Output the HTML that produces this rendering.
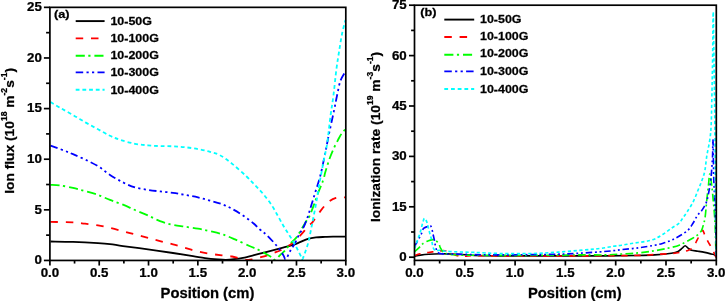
<!DOCTYPE html>
<html><head><meta charset="utf-8"><title>Ion flux and ionization rate</title>
<style>
html,body{margin:0;padding:0;background:#fff;}
body{width:725px;height:301px;overflow:hidden;font-family:"Liberation Sans",sans-serif;}
svg{display:block;will-change:transform;}
</style></head><body>
<svg width="725" height="301" viewBox="0 0 725 301">
<rect x="0" y="0" width="725" height="301" fill="#fff"/>
<g font-family="'Liberation Sans', sans-serif" font-weight="bold" fill="#000">
<clipPath id="cl"><rect x="48.90" y="7.35" width="298.10" height="254.10"/></clipPath>
<g clip-path="url(#cl)" fill="none" stroke-width="1.80" stroke-linejoin="round">
<path d="M50.50 241.50 C54.25 241.57 65.08 241.63 73.00 241.90 C80.92 242.17 91.83 242.73 98.00 243.10 C104.17 243.47 105.83 243.60 110.00 244.10 C114.17 244.60 116.67 245.22 123.00 246.10 C129.33 246.98 139.67 248.25 148.00 249.40 C156.33 250.55 165.50 251.88 173.00 253.00 C180.50 254.12 187.67 255.25 193.00 256.10 C198.33 256.95 200.83 257.55 205.00 258.10 C209.17 258.65 214.50 259.12 218.00 259.40 C221.50 259.68 223.33 259.83 226.00 259.80 C228.67 259.77 231.17 259.53 234.00 259.20 C236.83 258.87 239.50 258.52 243.00 257.80 C246.50 257.08 251.00 255.90 255.00 254.90 C259.00 253.90 262.33 253.02 267.00 251.80 C271.67 250.58 278.67 248.75 283.00 247.60 C287.33 246.45 290.17 245.80 293.00 244.90 C295.83 244.00 297.50 243.22 300.00 242.20 C302.50 241.18 305.33 239.60 308.00 238.80 C310.67 238.00 313.17 237.72 316.00 237.40 C318.83 237.08 322.17 237.03 325.00 236.90 C327.83 236.77 329.50 236.65 333.00 236.60 C336.50 236.55 343.83 236.60 346.00 236.60" stroke="#000"/>
<path d="M50.50 221.90 C54.25 221.98 67.25 222.10 73.00 222.40 C78.75 222.70 80.83 223.20 85.00 223.70 C89.17 224.20 93.83 224.70 98.00 225.40 C102.17 226.10 105.83 226.93 110.00 227.90 C114.17 228.87 118.83 230.12 123.00 231.20 C127.17 232.28 130.83 233.28 135.00 234.40 C139.17 235.52 143.83 236.78 148.00 237.90 C152.17 239.02 155.83 240.02 160.00 241.10 C164.17 242.18 168.83 243.27 173.00 244.40 C177.17 245.53 180.83 246.72 185.00 247.90 C189.17 249.08 193.83 250.52 198.00 251.50 C202.17 252.48 206.00 253.17 210.00 253.80 C214.00 254.43 218.33 254.85 222.00 255.30 C225.67 255.75 229.00 255.97 232.00 256.50 C235.00 257.03 237.50 257.95 240.00 258.50 C242.50 259.05 245.00 259.63 247.00 259.80 C249.00 259.97 249.88 259.88 252.00 259.50 C254.12 259.12 257.38 258.10 259.70 257.50 C262.02 256.90 263.62 256.65 265.90 255.90 C268.18 255.15 271.03 253.90 273.40 253.00 C275.77 252.10 277.75 251.62 280.10 250.50 C282.45 249.38 285.70 247.35 287.50 246.30 C289.30 245.25 289.40 245.40 290.90 244.20 C292.40 243.00 294.73 240.78 296.50 239.10 C298.27 237.42 299.58 236.18 301.50 234.10 C303.42 232.02 306.08 228.68 308.00 226.60 C309.92 224.52 311.00 224.10 313.00 221.60 C315.00 219.10 317.50 214.80 320.00 211.60 C322.50 208.40 325.33 204.68 328.00 202.40 C330.67 200.12 333.00 198.75 336.00 197.90 C339.00 197.05 344.33 197.40 346.00 197.30" stroke="#ff0000" stroke-dasharray="7.50 7.80"/>
<path d="M50.50 184.90 C52.08 184.98 56.25 184.90 60.00 185.40 C63.75 185.90 68.83 186.95 73.00 187.90 C77.17 188.85 80.83 189.93 85.00 191.10 C89.17 192.27 93.83 193.43 98.00 194.90 C102.17 196.37 105.83 198.27 110.00 199.90 C114.17 201.53 118.83 203.02 123.00 204.70 C127.17 206.38 130.83 208.20 135.00 210.00 C139.17 211.80 143.83 213.65 148.00 215.50 C152.17 217.35 155.83 219.53 160.00 221.10 C164.17 222.67 168.83 223.97 173.00 224.90 C177.17 225.83 180.83 226.07 185.00 226.70 C189.17 227.33 193.83 227.95 198.00 228.70 C202.17 229.45 205.90 230.25 210.00 231.20 C214.10 232.15 218.43 233.03 222.60 234.40 C226.77 235.77 230.43 237.43 235.00 239.40 C239.57 241.37 246.17 244.50 250.00 246.20 C253.83 247.90 255.23 248.25 258.00 249.60 C260.77 250.95 264.22 252.97 266.60 254.30 C268.98 255.63 270.82 256.68 272.30 257.60 C273.78 258.52 274.17 260.25 275.50 259.80 C276.83 259.35 278.73 256.42 280.30 254.90 C281.87 253.38 283.03 252.78 284.90 250.70 C286.77 248.62 289.57 244.62 291.50 242.40 C293.43 240.18 294.83 239.62 296.50 237.40 C298.17 235.18 299.83 231.87 301.50 229.10 C303.17 226.33 305.13 223.03 306.50 220.80 C307.87 218.57 308.47 218.35 309.70 215.70 C310.93 213.05 312.52 208.63 313.90 204.90 C315.28 201.17 316.48 197.32 318.00 193.30 C319.52 189.28 321.75 184.42 323.00 180.80 C324.25 177.18 324.38 175.35 325.50 171.60 C326.62 167.85 328.32 162.18 329.70 158.30 C331.08 154.42 332.42 151.35 333.80 148.30 C335.18 145.25 336.63 142.55 338.00 140.00 C339.37 137.45 340.67 134.83 342.00 133.00 C343.33 131.17 345.33 129.67 346.00 129.00" stroke="#00ff00" stroke-dasharray="9.10 3.50 2.20 3.90"/>
<path d="M50.50 145.60 C52.75 146.42 60.25 149.07 64.00 150.50 C67.75 151.93 69.50 152.70 73.00 154.20 C76.50 155.70 80.83 157.50 85.00 159.50 C89.17 161.50 93.83 163.63 98.00 166.20 C102.17 168.77 105.83 172.20 110.00 174.90 C114.17 177.60 118.83 180.32 123.00 182.40 C127.17 184.48 130.83 186.15 135.00 187.40 C139.17 188.65 143.83 189.23 148.00 189.90 C152.17 190.57 155.83 190.90 160.00 191.40 C164.17 191.90 168.83 192.32 173.00 192.90 C177.17 193.48 180.83 194.15 185.00 194.90 C189.17 195.65 193.83 196.45 198.00 197.40 C202.17 198.35 205.90 199.43 210.00 200.60 C214.10 201.77 218.85 202.98 222.60 204.40 C226.35 205.82 229.05 207.22 232.50 209.10 C235.95 210.98 239.83 213.35 243.30 215.70 C246.77 218.05 250.53 220.90 253.30 223.20 C256.07 225.50 257.68 227.55 259.90 229.50 C262.12 231.45 263.82 232.20 266.60 234.90 C269.38 237.60 273.83 242.37 276.60 245.70 C279.37 249.03 281.68 252.63 283.20 254.90 C284.72 257.17 284.58 259.87 285.70 259.30 C286.82 258.73 288.37 254.18 289.90 251.50 C291.43 248.82 293.25 246.23 294.90 243.20 C296.55 240.17 298.30 236.08 299.80 233.30 C301.30 230.52 302.52 229.43 303.90 226.50 C305.28 223.57 306.85 219.30 308.10 215.70 C309.35 212.10 310.17 208.92 311.40 204.90 C312.63 200.88 313.98 196.58 315.50 191.60 C317.02 186.62 318.83 181.67 320.50 175.00 C322.17 168.33 324.12 158.28 325.50 151.60 C326.88 144.92 327.42 141.57 328.80 134.90 C330.18 128.23 332.42 118.22 333.80 111.60 C335.18 104.98 335.98 100.37 337.10 95.20 C338.22 90.03 339.05 84.63 340.50 80.60 C341.95 76.57 344.92 72.60 345.80 71.00" stroke="#0000ff" stroke-dasharray="7.50 3.30 2.20 3.30 2.20 3.30"/>
<path d="M50.50 102.00 C52.17 103.00 56.75 105.83 60.50 108.00 C64.25 110.17 68.85 112.60 73.00 115.00 C77.15 117.40 81.23 120.02 85.40 122.40 C89.57 124.78 93.90 127.07 98.00 129.30 C102.10 131.53 106.33 134.05 110.00 135.80 C113.67 137.55 115.83 138.47 120.00 139.80 C124.17 141.13 130.33 142.88 135.00 143.80 C139.67 144.72 143.83 144.92 148.00 145.30 C152.17 145.68 155.83 145.93 160.00 146.10 C164.17 146.27 168.83 146.12 173.00 146.30 C177.17 146.48 180.83 146.73 185.00 147.20 C189.17 147.67 193.83 148.33 198.00 149.10 C202.17 149.87 206.33 150.78 210.00 151.80 C213.67 152.82 216.25 153.15 220.00 155.20 C223.75 157.25 228.07 160.55 232.50 164.10 C236.93 167.65 242.80 172.93 246.60 176.50 C250.40 180.07 252.53 182.58 255.30 185.50 C258.07 188.42 260.50 190.77 263.20 194.00 C265.90 197.23 269.00 201.15 271.50 204.90 C274.00 208.65 276.20 212.98 278.20 216.50 C280.20 220.02 281.83 223.17 283.50 226.00 C285.17 228.83 286.58 230.92 288.20 233.50 C289.82 236.08 291.53 238.63 293.20 241.50 C294.87 244.37 296.82 248.05 298.20 250.70 C299.58 253.35 300.78 256.02 301.50 257.40 C302.22 258.78 301.95 259.70 302.50 259.00 C303.05 258.30 303.87 255.83 304.80 253.20 C305.73 250.57 307.13 246.80 308.10 243.20 C309.07 239.60 309.77 235.63 310.60 231.60 C311.43 227.57 312.13 224.00 313.10 219.00 C314.07 214.00 315.30 207.77 316.40 201.60 C317.50 195.43 318.45 188.95 319.70 182.00 C320.95 175.05 322.65 166.37 323.90 159.90 C325.15 153.43 326.10 150.52 327.20 143.20 C328.30 135.88 329.45 124.03 330.50 116.00 C331.55 107.97 332.53 102.67 333.50 95.00 C334.47 87.33 335.38 77.17 336.30 70.00 C337.22 62.83 338.05 58.00 339.00 52.00 C339.95 46.00 340.92 39.33 342.00 34.00 C343.08 28.67 344.92 22.33 345.50 20.00" stroke="#00ffff" stroke-dasharray="3.80 2.90"/>
</g>
<rect x="49.90" y="7.35" width="295.90" height="253.10" fill="none" stroke="#000" stroke-width="1.70"/>
<line x1="49.90" y1="260.45" x2="49.90" y2="265.55" stroke="#000" stroke-width="1.70"/>
<text transform="translate(49.90,277.40) scale(1.0650,1)" font-size="12.5" text-anchor="middle" stroke="#000" stroke-width="0.25">0.0</text>
<line x1="74.56" y1="260.45" x2="74.56" y2="263.55" stroke="#000" stroke-width="1.70"/>
<line x1="99.22" y1="260.45" x2="99.22" y2="265.55" stroke="#000" stroke-width="1.70"/>
<text transform="translate(99.22,277.40) scale(1.0650,1)" font-size="12.5" text-anchor="middle" stroke="#000" stroke-width="0.25">0.5</text>
<line x1="123.88" y1="260.45" x2="123.88" y2="263.55" stroke="#000" stroke-width="1.70"/>
<line x1="148.53" y1="260.45" x2="148.53" y2="265.55" stroke="#000" stroke-width="1.70"/>
<text transform="translate(148.53,277.40) scale(1.0650,1)" font-size="12.5" text-anchor="middle" stroke="#000" stroke-width="0.25">1.0</text>
<line x1="173.19" y1="260.45" x2="173.19" y2="263.55" stroke="#000" stroke-width="1.70"/>
<line x1="197.85" y1="260.45" x2="197.85" y2="265.55" stroke="#000" stroke-width="1.70"/>
<text transform="translate(197.85,277.40) scale(1.0650,1)" font-size="12.5" text-anchor="middle" stroke="#000" stroke-width="0.25">1.5</text>
<line x1="222.51" y1="260.45" x2="222.51" y2="263.55" stroke="#000" stroke-width="1.70"/>
<line x1="247.17" y1="260.45" x2="247.17" y2="265.55" stroke="#000" stroke-width="1.70"/>
<text transform="translate(247.17,277.40) scale(1.0650,1)" font-size="12.5" text-anchor="middle" stroke="#000" stroke-width="0.25">2.0</text>
<line x1="271.82" y1="260.45" x2="271.82" y2="263.55" stroke="#000" stroke-width="1.70"/>
<line x1="296.48" y1="260.45" x2="296.48" y2="265.55" stroke="#000" stroke-width="1.70"/>
<text transform="translate(296.48,277.40) scale(1.0650,1)" font-size="12.5" text-anchor="middle" stroke="#000" stroke-width="0.25">2.5</text>
<line x1="321.14" y1="260.45" x2="321.14" y2="263.55" stroke="#000" stroke-width="1.70"/>
<line x1="345.80" y1="260.45" x2="345.80" y2="265.55" stroke="#000" stroke-width="1.70"/>
<text transform="translate(345.80,277.40) scale(1.0650,1)" font-size="12.5" text-anchor="middle" stroke="#000" stroke-width="0.25">3.0</text>
<line x1="43.90" y1="260.45" x2="49.90" y2="260.45" stroke="#000" stroke-width="1.70"/>
<text transform="translate(41.80,264.15) scale(1.0650,1)" font-size="12.5" text-anchor="end" stroke="#000" stroke-width="0.25">0</text>
<line x1="46.10" y1="235.14" x2="49.90" y2="235.14" stroke="#000" stroke-width="1.70"/>
<line x1="43.90" y1="209.83" x2="49.90" y2="209.83" stroke="#000" stroke-width="1.70"/>
<text transform="translate(41.80,213.53) scale(1.0650,1)" font-size="12.5" text-anchor="end" stroke="#000" stroke-width="0.25">5</text>
<line x1="46.10" y1="184.52" x2="49.90" y2="184.52" stroke="#000" stroke-width="1.70"/>
<line x1="43.90" y1="159.21" x2="49.90" y2="159.21" stroke="#000" stroke-width="1.70"/>
<text transform="translate(41.80,162.91) scale(1.0650,1)" font-size="12.5" text-anchor="end" stroke="#000" stroke-width="0.25">10</text>
<line x1="46.10" y1="133.90" x2="49.90" y2="133.90" stroke="#000" stroke-width="1.70"/>
<line x1="43.90" y1="108.59" x2="49.90" y2="108.59" stroke="#000" stroke-width="1.70"/>
<text transform="translate(41.80,112.29) scale(1.0650,1)" font-size="12.5" text-anchor="end" stroke="#000" stroke-width="0.25">15</text>
<line x1="46.10" y1="83.28" x2="49.90" y2="83.28" stroke="#000" stroke-width="1.70"/>
<line x1="43.90" y1="57.97" x2="49.90" y2="57.97" stroke="#000" stroke-width="1.70"/>
<text transform="translate(41.80,61.67) scale(1.0650,1)" font-size="12.5" text-anchor="end" stroke="#000" stroke-width="0.25">20</text>
<line x1="46.10" y1="32.66" x2="49.90" y2="32.66" stroke="#000" stroke-width="1.70"/>
<line x1="43.90" y1="7.35" x2="49.90" y2="7.35" stroke="#000" stroke-width="1.70"/>
<text transform="translate(41.80,11.05) scale(1.0650,1)" font-size="12.5" text-anchor="end" stroke="#000" stroke-width="0.25">25</text>
<line x1="75.70" y1="21.10" x2="104.60" y2="21.10" stroke="#000" stroke-width="1.90"/>
<text transform="translate(110.40,24.70) scale(1.0580,1)" font-size="11.8" text-anchor="start" stroke="#000" stroke-width="0.25">10-50G</text>
<line x1="75.70" y1="38.40" x2="104.60" y2="38.40" stroke="#ff0000" stroke-width="1.90" stroke-dasharray="7.5 7.8"/>
<text transform="translate(110.40,41.60) scale(1.0580,1)" font-size="11.8" text-anchor="start" stroke="#000" stroke-width="0.25">10-100G</text>
<line x1="75.70" y1="55.80" x2="104.60" y2="55.80" stroke="#00ff00" stroke-width="1.90" stroke-dasharray="9.1 3.5 2.2 3.9"/>
<text transform="translate(110.40,58.75) scale(1.0580,1)" font-size="11.8" text-anchor="start" stroke="#000" stroke-width="0.25">10-200G</text>
<line x1="75.70" y1="72.40" x2="104.60" y2="72.40" stroke="#0000ff" stroke-width="1.90" stroke-dasharray="7.5 3.3 2.2 3.3 2.2 3.3"/>
<text transform="translate(110.40,76.20) scale(1.0580,1)" font-size="11.8" text-anchor="start" stroke="#000" stroke-width="0.25">10-300G</text>
<line x1="75.70" y1="89.80" x2="104.60" y2="89.80" stroke="#00ffff" stroke-width="1.90" stroke-dasharray="3.8 2.9"/>
<text transform="translate(110.40,93.60) scale(1.0580,1)" font-size="11.8" text-anchor="start" stroke="#000" stroke-width="0.25">10-400G</text>
<text transform="translate(54.00,18.00) scale(1.0800,1)" font-size="11.8" text-anchor="start" stroke="#000" stroke-width="0.25">(a)</text>
<text transform="translate(207.45,298.00) scale(1.0360,1)" font-size="14.3" text-anchor="middle" stroke="#000" stroke-width="0.25">Position (cm)</text>
<text transform="translate(13.70,193.80) rotate(-90) scale(1.0220,1)" font-size="13.5" stroke="#000" stroke-width="0.25">Ion flux (10<tspan font-size="8.4" dy="-6.6">18</tspan><tspan dy="6.6"> m</tspan><tspan font-size="8.4" dy="-6.6">-2</tspan><tspan dy="6.6">s</tspan><tspan font-size="8.4" dy="-6.6">-1</tspan><tspan dy="6.6">)</tspan></text>
<clipPath id="cr"><rect x="413.50" y="5.20" width="304.00" height="256.20"/></clipPath>
<g clip-path="url(#cr)" fill="none" stroke-width="1.65" stroke-linejoin="round">
<path d="M414.50 256.30 C415.50 256.10 418.12 255.45 420.50 255.10 C422.88 254.75 425.33 254.42 428.80 254.20 C432.27 253.98 437.83 253.83 441.30 253.80 C444.77 253.77 446.83 253.90 449.60 254.00 C452.37 254.10 454.85 254.27 457.90 254.40 C460.95 254.53 465.15 254.62 467.90 254.80 C470.65 254.98 469.05 255.33 474.40 255.50 C479.75 255.67 487.40 255.75 500.00 255.80 C512.60 255.85 532.50 255.80 550.00 255.80 C567.50 255.80 590.33 255.85 605.00 255.80 C619.67 255.75 629.70 255.65 638.00 255.50 C646.30 255.35 649.23 255.28 654.80 254.90 C660.37 254.52 667.52 253.77 671.40 253.20 C675.28 252.63 676.30 252.33 678.10 251.50 C679.90 250.67 681.03 249.17 682.20 248.20 C683.37 247.23 684.12 245.70 685.10 245.70 C686.08 245.70 687.05 247.45 688.10 248.20 C689.15 248.95 689.75 249.70 691.40 250.20 C693.05 250.70 695.78 250.83 698.00 251.20 C700.22 251.57 702.48 251.93 704.70 252.40 C706.92 252.87 709.65 253.58 711.30 254.00 C712.95 254.42 713.77 254.33 714.60 254.90 C715.43 255.47 716.02 256.98 716.30 257.40" stroke="#000"/>
<path d="M414.50 255.50 C415.43 255.22 417.78 254.30 420.10 253.80 C422.42 253.30 425.85 252.88 428.40 252.50 C430.95 252.12 432.98 251.80 435.40 251.50 C437.82 251.20 440.97 250.75 442.90 250.70 C444.83 250.65 445.88 250.95 447.00 251.20 C448.12 251.45 448.43 251.63 449.60 252.20 C450.77 252.77 452.48 253.97 454.00 254.60 C455.52 255.23 456.80 255.73 458.70 256.00 C460.60 256.27 462.85 256.27 465.40 256.20 C467.95 256.13 468.23 255.63 474.00 255.60 C479.77 255.57 487.33 255.93 500.00 256.00 C512.67 256.07 532.50 256.05 550.00 256.00 C567.50 255.95 590.33 255.80 605.00 255.70 C619.67 255.60 629.70 255.60 638.00 255.40 C646.30 255.20 649.23 254.82 654.80 254.50 C660.37 254.18 667.23 253.85 671.40 253.50 C675.57 253.15 677.02 252.92 679.80 252.40 C682.58 251.88 685.90 251.23 688.10 250.40 C690.30 249.57 691.48 249.15 693.00 247.40 C694.52 245.65 695.95 242.25 697.20 239.90 C698.45 237.55 699.58 234.90 700.50 233.30 C701.42 231.70 702.00 230.03 702.70 230.30 C703.40 230.57 703.82 233.02 704.70 234.90 C705.58 236.78 706.90 239.52 708.00 241.60 C709.10 243.68 710.20 245.33 711.30 247.40 C712.40 249.47 713.82 252.40 714.60 254.00 C715.38 255.60 715.77 256.50 716.00 257.00" stroke="#ff0000" stroke-dasharray="6.38 6.63"/>
<path d="M414.50 252.00 C414.60 251.87 414.25 252.02 415.10 251.20 C415.95 250.38 418.28 248.37 419.60 247.10 C420.92 245.83 421.53 244.67 423.00 243.60 C424.47 242.53 426.75 241.37 428.40 240.70 C430.05 240.03 431.80 239.72 432.90 239.60 C434.00 239.48 434.05 239.38 435.00 240.00 C435.95 240.62 437.70 241.98 438.60 243.30 C439.50 244.62 439.68 246.52 440.40 247.90 C441.12 249.28 441.97 250.67 442.90 251.60 C443.83 252.53 444.82 253.02 446.00 253.50 C447.18 253.98 448.43 254.28 450.00 254.50 C451.57 254.72 453.25 254.70 455.40 254.80 C457.55 254.90 459.80 255.03 462.90 255.10 C466.00 255.17 467.82 255.15 474.00 255.20 C480.18 255.25 487.33 255.40 500.00 255.40 C512.67 255.40 536.17 255.28 550.00 255.20 C563.83 255.12 573.83 254.95 583.00 254.90 C592.17 254.85 598.57 255.05 605.00 254.90 C611.43 254.75 616.07 254.33 621.60 254.00 C627.13 253.67 632.67 253.45 638.20 252.90 C643.73 252.35 649.27 251.62 654.80 250.70 C660.33 249.78 667.23 248.37 671.40 247.40 C675.57 246.43 677.02 246.02 679.80 244.90 C682.58 243.78 685.33 242.22 688.10 240.70 C690.87 239.18 694.20 237.45 696.40 235.80 C698.60 234.15 700.07 232.88 701.30 230.80 C702.53 228.72 703.15 225.65 703.80 223.30 C704.45 220.95 704.70 220.60 705.20 216.70 C705.70 212.80 706.27 205.03 706.80 199.90 C707.33 194.77 707.90 190.22 708.40 185.90 C708.90 181.58 709.23 173.98 709.80 174.00 C710.37 174.02 711.23 181.68 711.80 186.00 C712.37 190.32 712.77 195.27 713.20 199.90 C713.63 204.53 714.07 209.15 714.40 213.80 C714.73 218.45 714.93 220.77 715.20 227.80 C715.47 234.83 715.87 251.30 716.00 256.00" stroke="#00ff00" stroke-dasharray="7.73 2.98 1.87 3.31"/>
<path d="M414.50 246.50 C414.80 245.97 415.58 244.60 416.30 243.30 C417.02 242.00 417.97 240.25 418.80 238.70 C419.63 237.15 420.53 235.68 421.30 234.00 C422.07 232.32 422.37 229.85 423.40 228.60 C424.43 227.35 426.53 226.97 427.50 226.50 C428.47 226.03 428.63 225.85 429.20 225.80 C429.77 225.75 430.37 225.32 430.90 226.20 C431.43 227.08 431.98 229.50 432.40 231.10 C432.82 232.70 433.03 234.12 433.40 235.80 C433.77 237.48 434.27 239.53 434.60 241.20 C434.93 242.87 435.05 244.27 435.40 245.80 C435.75 247.33 436.18 249.23 436.70 250.40 C437.22 251.57 437.73 252.25 438.50 252.80 C439.27 253.35 439.87 253.50 441.30 253.70 C442.73 253.90 443.50 253.90 447.10 254.00 C450.70 254.10 458.42 254.20 462.90 254.30 C467.38 254.40 467.82 254.50 474.00 254.60 C480.18 254.70 487.37 254.93 500.00 254.90 C512.63 254.87 537.33 254.63 549.80 254.40 C562.27 254.17 566.48 253.92 574.80 253.50 C583.12 253.08 593.28 252.37 599.70 251.90 C606.12 251.43 609.65 251.08 613.30 250.70 C616.95 250.32 617.45 250.07 621.60 249.60 C625.75 249.13 632.67 248.63 638.20 247.90 C643.73 247.17 650.65 245.98 654.80 245.20 C658.95 244.42 660.33 244.03 663.10 243.20 C665.87 242.37 668.62 241.43 671.40 240.20 C674.18 238.97 677.02 237.50 679.80 235.80 C682.58 234.10 685.90 232.08 688.10 230.00 C690.30 227.92 691.48 225.67 693.00 223.30 C694.52 220.93 695.67 218.03 697.20 215.80 C698.73 213.57 700.68 212.13 702.20 209.90 C703.72 207.67 705.20 205.38 706.30 202.40 C707.40 199.42 708.05 195.73 708.80 192.00 C709.55 188.27 710.30 184.00 710.80 180.00 C711.30 176.00 711.50 172.17 711.80 168.00 C712.10 163.83 712.40 159.67 712.60 155.00 C712.80 150.33 712.80 135.83 713.00 140.00 C713.20 144.17 713.50 170.00 713.80 180.00 C714.10 190.00 714.47 192.37 714.80 200.00 C715.13 207.63 715.57 216.47 715.80 225.80 C716.03 235.13 716.13 250.97 716.20 256.00" stroke="#0000ff" stroke-dasharray="6.38 2.80 1.87 2.80 1.87 2.80"/>
<path d="M414.50 248.50 C414.80 247.75 415.72 245.70 416.30 244.00 C416.88 242.30 417.45 239.88 418.00 238.30 C418.55 236.72 419.12 235.90 419.60 234.50 C420.08 233.10 420.42 231.72 420.90 229.90 C421.38 228.08 421.95 225.50 422.50 223.60 C423.05 221.70 423.68 219.18 424.20 218.50 C424.72 217.82 425.12 218.78 425.60 219.50 C426.08 220.22 426.57 221.13 427.10 222.80 C427.63 224.47 428.27 227.42 428.80 229.50 C429.33 231.58 429.88 233.80 430.30 235.30 C430.72 236.80 431.00 237.30 431.30 238.50 C431.60 239.70 431.82 241.03 432.10 242.50 C432.38 243.97 432.60 246.05 433.00 247.30 C433.40 248.55 433.95 249.45 434.50 250.00 C435.05 250.55 435.45 250.55 436.30 250.60 C437.15 250.65 438.37 250.23 439.60 250.30 C440.83 250.37 441.97 250.80 443.70 251.00 C445.43 251.20 447.28 251.33 450.00 251.50 C452.72 251.67 455.93 251.85 460.00 252.00 C464.07 252.15 467.83 252.15 474.40 252.40 C480.97 252.65 489.60 253.32 499.40 253.50 C509.20 253.68 523.42 253.73 533.20 253.50 C542.98 253.27 549.78 252.68 558.10 252.10 C566.42 251.52 576.17 250.60 583.10 250.00 C590.03 249.40 594.67 249.12 599.70 248.50 C604.73 247.88 609.65 246.85 613.30 246.30 C616.95 245.75 618.83 245.62 621.60 245.20 C624.37 244.78 627.13 244.25 629.90 243.80 C632.67 243.35 635.43 242.92 638.20 242.50 C640.97 242.08 643.73 241.90 646.50 241.30 C649.27 240.70 652.03 240.08 654.80 238.90 C657.57 237.72 660.33 235.97 663.10 234.20 C665.87 232.43 668.77 230.12 671.40 228.30 C674.03 226.48 677.05 224.93 678.90 223.30 C680.75 221.67 681.15 220.38 682.50 218.50 C683.85 216.62 685.25 214.72 687.00 212.00 C688.75 209.28 691.18 205.78 693.00 202.20 C694.82 198.62 696.42 194.12 697.90 190.50 C699.38 186.88 700.75 183.75 701.90 180.50 C703.05 177.25 703.98 175.10 704.80 171.00 C705.62 166.90 705.97 161.08 706.80 155.90 C707.63 150.72 709.07 145.22 709.80 139.90 C710.53 134.58 710.83 132.32 711.20 124.00 C711.57 115.68 711.77 100.67 712.00 90.00 C712.23 79.33 712.40 73.00 712.60 60.00 C712.80 47.00 712.97 12.00 713.20 12.00 C713.43 12.00 713.73 42.00 714.00 60.00 C714.27 78.00 714.58 100.00 714.80 120.00 C715.02 140.00 715.10 157.33 715.30 180.00 C715.50 202.67 715.88 243.33 716.00 256.00" stroke="#00ffff" stroke-dasharray="3.23 2.46"/>
</g>
<rect x="414.50" y="5.20" width="301.80" height="255.20" fill="none" stroke="#000" stroke-width="1.70"/>
<line x1="414.50" y1="260.40" x2="414.50" y2="265.50" stroke="#000" stroke-width="1.70"/>
<text transform="translate(414.40,277.40) scale(1.0650,1)" font-size="12.5" text-anchor="middle" stroke="#000" stroke-width="0.25">0.0</text>
<line x1="439.65" y1="260.40" x2="439.65" y2="263.50" stroke="#000" stroke-width="1.70"/>
<line x1="464.80" y1="260.40" x2="464.80" y2="265.50" stroke="#000" stroke-width="1.70"/>
<text transform="translate(464.70,277.40) scale(1.0650,1)" font-size="12.5" text-anchor="middle" stroke="#000" stroke-width="0.25">0.5</text>
<line x1="489.95" y1="260.40" x2="489.95" y2="263.50" stroke="#000" stroke-width="1.70"/>
<line x1="515.10" y1="260.40" x2="515.10" y2="265.50" stroke="#000" stroke-width="1.70"/>
<text transform="translate(515.00,277.40) scale(1.0650,1)" font-size="12.5" text-anchor="middle" stroke="#000" stroke-width="0.25">1.0</text>
<line x1="540.25" y1="260.40" x2="540.25" y2="263.50" stroke="#000" stroke-width="1.70"/>
<line x1="565.40" y1="260.40" x2="565.40" y2="265.50" stroke="#000" stroke-width="1.70"/>
<text transform="translate(565.30,277.40) scale(1.0650,1)" font-size="12.5" text-anchor="middle" stroke="#000" stroke-width="0.25">1.5</text>
<line x1="590.55" y1="260.40" x2="590.55" y2="263.50" stroke="#000" stroke-width="1.70"/>
<line x1="615.70" y1="260.40" x2="615.70" y2="265.50" stroke="#000" stroke-width="1.70"/>
<text transform="translate(615.60,277.40) scale(1.0650,1)" font-size="12.5" text-anchor="middle" stroke="#000" stroke-width="0.25">2.0</text>
<line x1="640.85" y1="260.40" x2="640.85" y2="263.50" stroke="#000" stroke-width="1.70"/>
<line x1="666.00" y1="260.40" x2="666.00" y2="265.50" stroke="#000" stroke-width="1.70"/>
<text transform="translate(665.90,277.40) scale(1.0650,1)" font-size="12.5" text-anchor="middle" stroke="#000" stroke-width="0.25">2.5</text>
<line x1="691.15" y1="260.40" x2="691.15" y2="263.50" stroke="#000" stroke-width="1.70"/>
<line x1="716.30" y1="260.40" x2="716.30" y2="265.50" stroke="#000" stroke-width="1.70"/>
<text transform="translate(716.20,277.40) scale(1.0650,1)" font-size="12.5" text-anchor="middle" stroke="#000" stroke-width="0.25">3.0</text>
<line x1="409.00" y1="257.20" x2="414.50" y2="257.20" stroke="#000" stroke-width="1.70"/>
<text transform="translate(406.70,261.10) scale(1.0650,1)" font-size="12.5" text-anchor="end" stroke="#000" stroke-width="0.25">0</text>
<line x1="411.10" y1="232.00" x2="414.50" y2="232.00" stroke="#000" stroke-width="1.70"/>
<line x1="409.00" y1="206.80" x2="414.50" y2="206.80" stroke="#000" stroke-width="1.70"/>
<text transform="translate(406.70,210.70) scale(1.0650,1)" font-size="12.5" text-anchor="end" stroke="#000" stroke-width="0.25">15</text>
<line x1="411.10" y1="181.60" x2="414.50" y2="181.60" stroke="#000" stroke-width="1.70"/>
<line x1="409.00" y1="156.40" x2="414.50" y2="156.40" stroke="#000" stroke-width="1.70"/>
<text transform="translate(406.70,160.30) scale(1.0650,1)" font-size="12.5" text-anchor="end" stroke="#000" stroke-width="0.25">30</text>
<line x1="411.10" y1="131.20" x2="414.50" y2="131.20" stroke="#000" stroke-width="1.70"/>
<line x1="409.00" y1="106.00" x2="414.50" y2="106.00" stroke="#000" stroke-width="1.70"/>
<text transform="translate(406.70,109.90) scale(1.0650,1)" font-size="12.5" text-anchor="end" stroke="#000" stroke-width="0.25">45</text>
<line x1="411.10" y1="80.80" x2="414.50" y2="80.80" stroke="#000" stroke-width="1.70"/>
<line x1="409.00" y1="55.60" x2="414.50" y2="55.60" stroke="#000" stroke-width="1.70"/>
<text transform="translate(406.70,59.50) scale(1.0650,1)" font-size="12.5" text-anchor="end" stroke="#000" stroke-width="0.25">60</text>
<line x1="411.10" y1="30.40" x2="414.50" y2="30.40" stroke="#000" stroke-width="1.70"/>
<line x1="409.00" y1="5.20" x2="414.50" y2="5.20" stroke="#000" stroke-width="1.70"/>
<text transform="translate(406.70,9.10) scale(1.0650,1)" font-size="12.5" text-anchor="end" stroke="#000" stroke-width="0.25">75</text>
<line x1="444.30" y1="19.60" x2="474.20" y2="19.60" stroke="#000" stroke-width="1.90"/>
<text transform="translate(480.00,22.90) scale(1.0580,1)" font-size="11.8" text-anchor="start" stroke="#000" stroke-width="0.25">10-50G</text>
<line x1="444.30" y1="37.00" x2="474.20" y2="37.00" stroke="#ff0000" stroke-width="1.90" stroke-dasharray="7.5 7.8"/>
<text transform="translate(480.00,39.80) scale(1.0580,1)" font-size="11.8" text-anchor="start" stroke="#000" stroke-width="0.25">10-100G</text>
<line x1="444.30" y1="54.70" x2="474.20" y2="54.70" stroke="#00ff00" stroke-width="1.90" stroke-dasharray="9.1 3.5 2.2 3.9"/>
<text transform="translate(480.00,57.40) scale(1.0580,1)" font-size="11.8" text-anchor="start" stroke="#000" stroke-width="0.25">10-200G</text>
<line x1="444.30" y1="71.40" x2="474.20" y2="71.40" stroke="#0000ff" stroke-width="1.90" stroke-dasharray="7.5 3.3 2.2 3.3 2.2 3.3"/>
<text transform="translate(480.00,74.60) scale(1.0580,1)" font-size="11.8" text-anchor="start" stroke="#000" stroke-width="0.25">10-300G</text>
<line x1="444.30" y1="89.00" x2="474.20" y2="89.00" stroke="#00ffff" stroke-width="1.90" stroke-dasharray="3.8 2.9"/>
<text transform="translate(480.00,92.50) scale(1.0580,1)" font-size="11.8" text-anchor="start" stroke="#000" stroke-width="0.25">10-400G</text>
<text transform="translate(420.20,15.50) scale(1.0800,1)" font-size="11.8" text-anchor="start" stroke="#000" stroke-width="0.25">(b)</text>
<text transform="translate(574.80,298.00) scale(1.0360,1)" font-size="14.3" text-anchor="middle" stroke="#000" stroke-width="0.25">Position (cm)</text>
<text transform="translate(379.60,222.10) rotate(-90) scale(1.0220,1)" font-size="13.5" stroke="#000" stroke-width="0.25">Ionization rate (10<tspan font-size="8.4" dy="-6.6">19</tspan><tspan dy="6.6"> m</tspan><tspan font-size="8.4" dy="-6.6">-3</tspan><tspan dy="6.6">s</tspan><tspan font-size="8.4" dy="-6.6">-1</tspan><tspan dy="6.6">)</tspan></text>
</g></svg>
</body></html>
